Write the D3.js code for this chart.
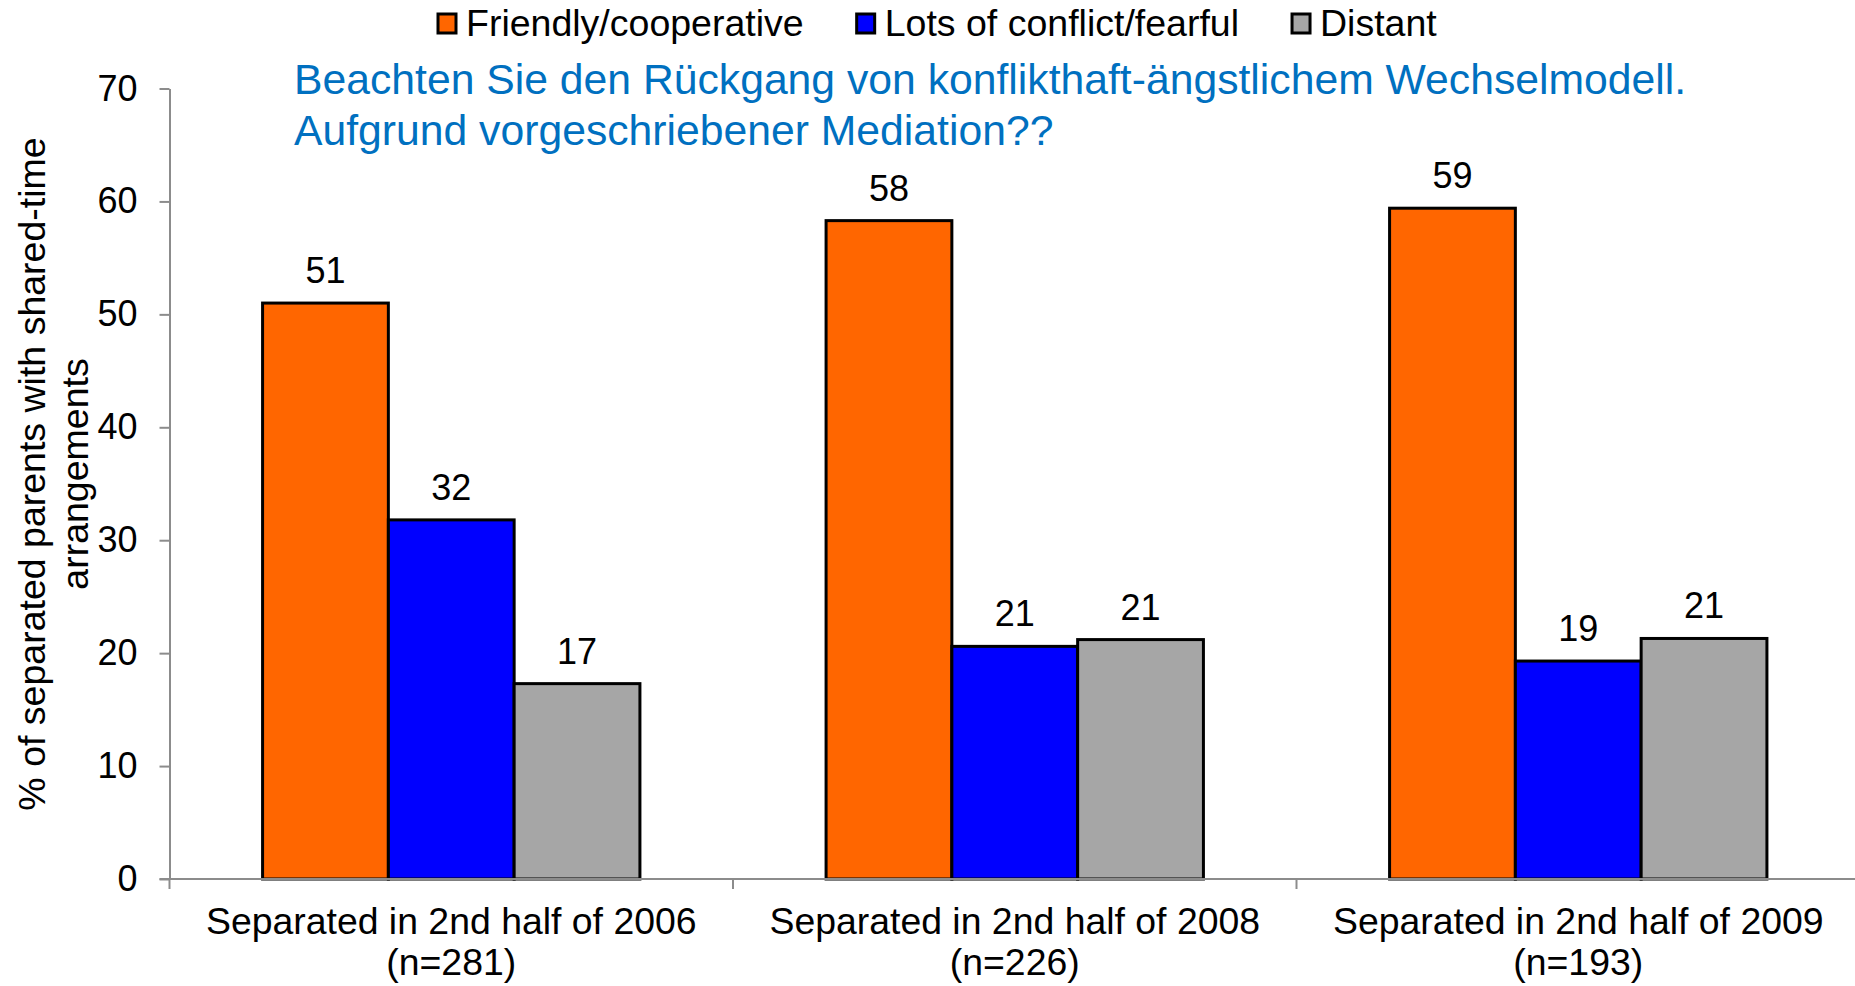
<!DOCTYPE html>
<html lang="en">
<head>
    <meta charset="UTF-8"/>
    <title>Shared-time arrangements by co-parenting style</title>
    <script src="https://d3js.org/d3.v7.min.js"></script>
    <style type="text/css">
        body { margin: 0; background: #fff; }
        svg text { font-family: "Liberation Sans", Arial, sans-serif; fill: #000; }
        .bar { stroke: #000; stroke-width: 3; }
        .axis path, .axis line { stroke: #8c8c8c; stroke-width: 2; }
        .axis text { font-size: 36px; }
        .axis .cat { font-size: 37.4px; }
        .note { fill: #0070C0; font-size: 42.7px; }
    </style>
</head>
<body>
<script>

// data
var categories = ["Separated in 2nd half of 2006", "Separated in 2nd half of 2008", "Separated in 2nd half of 2009"];
var sampleSizes = ["(n=281)", "(n=226)", "(n=193)"];
var seriesNames = ["Friendly/cooperative", "Lots of conflict/fearful", "Distant"];
var friendly = [51.0, 58.3, 59.4];
var conflict = [31.8, 20.6, 19.3];
var distant = [17.3, 21.2, 21.3];
var yTicks = [0, 10, 20, 30, 40, 50, 60, 70];
var colors = ["#FF6600", "#0000FF", "#A6A6A6"];
var noteLines = ["Beachten Sie den Rückgang von konflikthaft-ängstlichem Wechselmodell.",
                 "Aufgrund vorgeschriebener Mediation??"];
var yTitle = ["% of separated parents with shared-time", "arrangements"];

var series = [friendly, conflict, distant];

var W = 1855, H = 986;
var margin = {top: 88.5, right: -5, bottom: 107, left: 169.5},
    width = W - margin.left - margin.right,
    height = H - margin.top - margin.bottom;

var svg = d3.select("body").append("svg")
    .attr("width", W)
    .attr("height", H);

var g = svg.append("g")
    .attr("transform", "translate(" + margin.left + "," + margin.top + ")");

// scales
var x0 = d3.scaleBand().domain(categories).range([0, width]).padding(0);
var x1 = d3.scaleBand().domain(seriesNames).range([0, x0.bandwidth()])
    .paddingInner(0).paddingOuter(0.74);
var y = d3.scaleLinear().domain([0, 70]).range([height, 0]);

// y axis
var yAxis = g.append("g").attr("class", "axis")
    .call(d3.axisLeft(y).tickValues(yTicks).tickSize(10).tickPadding(22).tickSizeOuter(0));

// bars
var groups = g.selectAll(".grp")
    .data(categories)
    .enter().append("g")
    .attr("class", "grp")
    .attr("transform", function(d) { return "translate(" + x0(d) + ",0)"; });

groups.selectAll("rect")
    .data(function(d, i) {
        return seriesNames.map(function(s, j) { return {s: s, j: j, v: series[j][i]}; });
    })
    .enter().append("rect")
    .attr("class", "bar")
    .attr("x", function(d) { return x1(d.s); })
    .attr("y", function(d) { return y(d.v); })
    .attr("width", x1.bandwidth())
    .attr("height", function(d) { return height - y(d.v); })
    .attr("fill", function(d) { return colors[d.j]; });

// value labels
groups.selectAll(".val")
    .data(function(d, i) {
        return seriesNames.map(function(s, j) { return {s: s, v: series[j][i]}; });
    })
    .enter().append("text")
    .attr("class", "val")
    .attr("x", function(d) { return x1(d.s) + x1.bandwidth() / 2; })
    .attr("y", function(d) { return y(d.v) - 20; })
    .attr("text-anchor", "middle")
    .style("font-size", "36px")
    .text(function(d) { return d3.format(".0f")(d.v); });

// x axis: ticks at category boundaries
var xAxis = g.append("g").attr("class", "axis")
    .attr("transform", "translate(0," + height + ")");
xAxis.append("line").attr("x1", -10).attr("x2", width);
xAxis.selectAll(".tk")
    .data(d3.range(categories.length + 1))
    .enter().append("line")
    .attr("x1", function(i) { return i * x0.step(); })
    .attr("x2", function(i) { return i * x0.step(); })
    .attr("y1", 0).attr("y2", 10);

var catLabels = xAxis.selectAll(".cat")
    .data(categories)
    .enter().append("text")
    .attr("class", "cat")
    .attr("text-anchor", "middle")
    .attr("x", function(d) { return x0(d) + x0.bandwidth() / 2; });
catLabels.append("tspan")
    .attr("x", function(d) { return x0(d) + x0.bandwidth() / 2; })
    .attr("y", 55)
    .text(function(d) { return d; });
catLabels.append("tspan")
    .attr("x", function(d) { return x0(d) + x0.bandwidth() / 2; })
    .attr("y", 96)
    .text(function(d, i) { return sampleSizes[i]; });

// y axis title
svg.append("text")
    .attr("transform", "translate(45," + 474 + ") rotate(-90)")
    .attr("text-anchor", "middle")
    .style("font-size", "37.5px")
    .selectAll("tspan")
    .data(yTitle)
    .enter().append("tspan")
    .attr("x", 0)
    .attr("dy", function(d, i) { return i === 0 ? 0 : 42.5; })
    .text(function(d) { return d; });

// annotation
svg.append("text")
    .attr("class", "note")
    .selectAll("tspan")
    .data(noteLines)
    .enter().append("tspan")
    .attr("x", 294)
    .attr("y", function(d, i) { return 94 + i * 51; })
    .text(function(d) { return d; });

// legend
var legend = svg.append("g").attr("transform", "translate(438,0)");
var lx = 0;
seriesNames.forEach(function(name, i) {
    legend.append("rect")
        .attr("x", lx).attr("y", 14)
        .attr("width", 18).attr("height", 19)
        .attr("fill", colors[i])
        .attr("stroke", "#000").attr("stroke-width", 3);
    var t = legend.append("text")
        .attr("x", lx + 28).attr("y", 36)
        .style("font-size", "37.5px")
        .text(name);
    lx += 28 + t.node().getComputedTextLength() + 53;
});

</script>
</body>
</html>
